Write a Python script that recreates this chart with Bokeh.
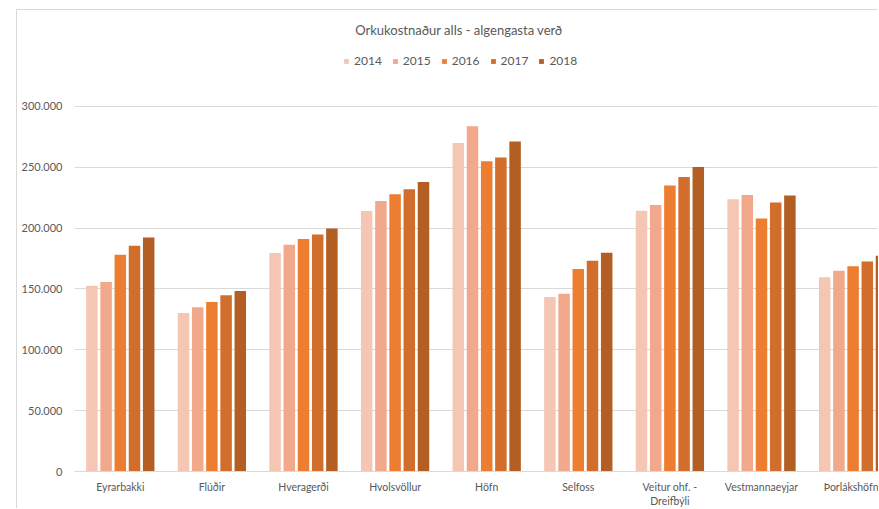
from bokeh.plotting import figure
from bokeh.models import (ColumnDataSource, Range1d, FixedTicker, Legend, LegendItem, Label)
from bokeh.embed import file_html
from bokeh.resources import INLINE

# Energy cost per location and year (ISK)
categories = ["Eyrarbakki", "Flúðir", "Hveragerði", "Hvolsvöllur", "Höfn",
              "Selfoss", "Veitur ohf. -\nDreifbýli", "Vestmannaeyjar", "Þorlákshöfn"]
years = ["2014", "2015", "2016", "2017", "2018"]
v2014 = [152600, 130200, 179400, 213900, 269900, 143300, 214100, 223700, 159500]
v2015 = [155600, 134900, 186200, 222300, 283600, 146000, 219000, 227200, 164900]
v2016 = [178000, 139200, 190900, 227800, 254900, 166300, 234900, 207900, 168700]
v2017 = [185400, 144700, 194700, 231900, 257900, 173100, 242000, 221000, 172600]
v2018 = [192300, 148200, 199700, 237900, 271000, 179700, 250200, 226700, 177200]
series = [v2014, v2015, v2016, v2017, v2018]

y_ticks = [0, 50000, 100000, 150000, 200000, 250000, 300000]
y_tick_labels = ["0", "50.000", "100.000", "150.000", "200.000", "250.000", "300.000"]
y_max = 300000

colors = ["#F6C6B4", "#F2A88A", "#ED7D31", "#D26E2B", "#B35E22"]
text_color = "#595959"
font = "Lato"

# page geometry (px): chart box starts at (17, 10) on the page
BOX_X, BOX_Y = 17, 10
W, H = 879 - BOX_X, 509 - BOX_Y
PLOT_LEFT = 57            # left edge of the plot area inside the chart box
AXIS_Y = 462              # baseline (value 0) inside the chart box
TOP_GRID = 96             # y of the top gridline inside the chart box
CAT_PX = 91.6             # width of one category slot

centers = [i + 0.5 for i in range(len(categories))]
pitch, bar_w = 0.155, 0.1255

# the frame reaches the top of the chart so the title and legend sit inside it
y_end = y_max * AXIS_Y / (AXIS_Y - TOP_GRID)

p = figure(width=W, height=H, output_backend="svg", toolbar_location=None,
           x_range=Range1d(0, (W - PLOT_LEFT) / CAT_PX), y_range=Range1d(0, y_end),
           min_border_left=PLOT_LEFT, min_border_right=0,
           min_border_top=0, min_border_bottom=H - AXIS_Y)
p.outline_line_color = None
p.background_fill_color = "white"
p.border_fill_color = "white"
p.styles = {"margin-left": f"{BOX_X - 1}px", "margin-top": f"{BOX_Y - 1}px",
            "border-left": "1px solid #D9D9D9", "border-top": "1px solid #D9D9D9"}

items = []
for k, (yr, vals, col) in enumerate(zip(years, series, colors)):
    off = (k - 2) * pitch
    src = ColumnDataSource(dict(x=[c + off for c in centers], top=vals))
    r = p.vbar(x="x", top="top", width=bar_w, source=src,
               fill_color=col, line_color=None)
    items.append(LegendItem(label=yr, renderers=[r]))

# axes
p.xaxis.ticker = FixedTicker(ticks=centers)
p.xaxis.major_label_overrides = {c: n for c, n in zip(centers, categories)}
p.xaxis.axis_line_color = "#D9D9D9"
p.xaxis.major_tick_line_color = None
p.xaxis.major_tick_out = 0
p.xaxis.major_tick_in = 0
p.xaxis.minor_tick_line_color = None
p.xaxis.major_label_text_font = font
p.xaxis.major_label_text_font_size = "10.5px"
p.xaxis.major_label_text_color = text_color
p.xaxis.major_label_standoff = 9

p.yaxis.ticker = FixedTicker(ticks=y_ticks)
p.yaxis.major_label_overrides = {t: s for t, s in zip(y_ticks, y_tick_labels)}
p.yaxis.axis_line_color = None
p.yaxis.major_tick_line_color = None
p.yaxis.major_tick_out = 0
p.yaxis.major_tick_in = 0
p.yaxis.minor_tick_line_color = None
p.yaxis.major_label_text_font = font
p.yaxis.major_label_text_font_size = "11px"
p.yaxis.major_label_text_color = text_color
p.yaxis.major_label_standoff = 12

p.xgrid.grid_line_color = None
p.ygrid.grid_line_color = "#D9D9D9"
p.ygrid.grid_line_width = 1

# title
p.add_layout(Label(x=458.5 - BOX_X - PLOT_LEFT, y=AXIS_Y - (30 - BOX_Y),
                   x_units="screen", y_units="screen",
                   text="Orkukostnaður alls - algengasta verð",
                   text_align="center", text_baseline="middle",
                   text_font=font, text_font_size="13px", text_color=text_color))

legend = Legend(items=items, orientation="horizontal",
                location=(343 - BOX_X - PLOT_LEFT, AXIS_Y - (69 - BOX_Y)),
                glyph_width=6, glyph_height=6, label_standoff=5, spacing=10,
                label_height=14, label_width=10,
                padding=0, margin=0, border_line_color=None, background_fill_alpha=0,
                label_text_font=font, label_text_font_size="12px",
                label_text_color=text_color)
p.add_layout(legend, "center")

open("out.html", "w").write(file_html(p, INLINE))
